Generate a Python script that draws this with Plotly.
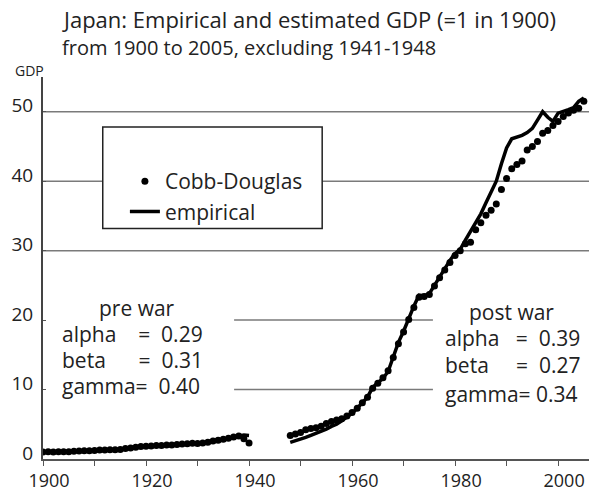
import plotly.graph_objects as go

# ---------------- data ----------------
pre_years = list(range(1900, 1941))
pre_empirical = [1.00, 1.02, 0.98, 1.03, 1.04, 1.02, 1.12, 1.16, 1.18, 1.18,
                 1.20, 1.27, 1.31, 1.33, 1.30, 1.40, 1.55, 1.62, 1.68, 1.85,
                 1.78, 1.92, 1.92, 1.93, 1.98, 2.04, 2.06, 2.12, 2.25, 2.27,
                 2.25, 2.27, 2.45, 2.68, 2.72, 2.80, 2.98, 3.12, 3.28, 3.45,
                 3.40]
pre_cobb = [1.00, 1.03, 1.00, 1.04, 1.05, 1.05, 1.10, 1.15, 1.19, 1.20,
            1.24, 1.28, 1.30, 1.34, 1.33, 1.38, 1.50, 1.60, 1.70, 1.80,
            1.82, 1.88, 1.94, 1.95, 2.00, 2.02, 2.08, 2.15, 2.20, 2.25,
            2.22, 2.30, 2.40, 2.60, 2.70, 2.85, 3.00, 3.15, 3.30, 2.90,
            2.30]

post_years = list(range(1948, 2006))
post_empirical = [2.4, 2.6, 2.85, 3.1, 3.4, 3.7, 3.9, 4.3, 4.7, 5.0,
                  5.5, 6.0, 6.6, 7.3, 8.1, 8.9, 10.3, 10.9, 11.6, 12.6,
                  14.8, 16.8, 18.4, 20.3, 22.0, 23.6, 23.5, 23.8, 25.0, 26.3,
                  27.4, 28.6, 29.6, 30.2, 31.5, 32.7, 34.0, 35.3, 36.9, 38.6,
                  40.0, 42.5, 44.8, 46.1, 46.3, 46.6, 47.0, 47.6, 48.8, 50.0,
                  49.2, 48.6, 49.8, 50.0, 50.3, 50.6, 51.5, 52.0]
post_cobb = [3.4, 3.6, 3.8, 4.2, 4.4, 4.5, 4.7, 5.1, 5.4, 5.6,
             5.8, 6.2, 6.7, 7.3, 8.1, 8.9, 10.2, 10.9, 11.7, 12.7,
             14.6, 16.6, 18.3, 20.1, 21.8, 23.3, 23.4, 23.7, 24.9, 26.1,
             27.2, 28.3, 29.3, 30.0, 31.0, 31.2, 33.0, 34.0, 35.1, 35.8,
             36.7, 38.8, 40.4, 41.8, 42.4, 42.9, 44.5, 45.0, 45.7, 46.9,
             47.3, 48.0, 48.6, 49.3, 49.8, 50.2, 50.5, 51.5]

x_tick_vals = list(range(1900, 2001, 10))
x_tick_text = ["1900", "", "1920", "", "1940", "", "1960", "", "1980", "", "2000"]
y_tick_vals = [0, 10, 20, 30, 40, 50]

title_line1 = "Japan: Empirical and estimated GDP (=1 in 1900)"
title_line2 = "from 1900 to 2005, excluding 1941-1948"

NB = "\u00a0"
pre_lines = ["alpha" + NB * 4 + "=" + NB * 2 + "0.29",
             "beta" + NB * 6 + "=" + NB * 2 + "0.31",
             "gamma=" + NB * 2 + "0.40"]
post_lines = ["alpha" + NB * 3 + "=" + NB * 2 + "0.39",
              "beta" + NB * 5 + "=" + NB * 2 + "0.27",
              "gamma=" + NB + "0.34"]

# ---------------- figure ----------------
FONT = "Open Sans, Noto Sans, DejaVu Sans, sans-serif"
TXT = "#222222"

emp_x = pre_years + [1944] + post_years
emp_y = pre_empirical + [None] + post_empirical
cd_x = pre_years + post_years
cd_y = pre_cobb + post_cobb

fig = go.Figure()
fig.add_trace(go.Scatter(
    x=cd_x, y=cd_y, mode="markers", name="Cobb-Douglas",
    marker=dict(color="black", size=7, symbol="circle"),
))
fig.add_trace(go.Scatter(
    x=emp_x, y=emp_y, mode="lines", name="empirical",
    line=dict(color="black", width=3.5), connectgaps=False,
))

grid_col = "#7a7a7a"
shapes = []
for gy in [30, 40, 50]:
    shapes.append(dict(type="line", xref="paper", x0=0, x1=1, yref="y", y0=gy, y1=gy,
                       line=dict(color=grid_col, width=1.5), layer="below"))
for gy in [10, 20]:
    shapes.append(dict(type="line", xref="x", x0=1937.1, x1=1975.7, yref="y", y0=gy, y1=gy,
                       line=dict(color=grid_col, width=1.5), layer="below"))
# legend frame
shapes.append(dict(type="rect", xref="x", x0=1911.6, x1=1954.2, yref="y", y0=33.2, y1=47.8,
                   fillcolor="white", line=dict(color=TXT, width=1.5), layer="above"))

annotations = [
    dict(text=title_line1, xref="paper", yref="paper", x=0.031, y=1.153, showarrow=False,
         xanchor="left", yanchor="middle", font=dict(size=22, color=TXT)),
    dict(text=title_line2, xref="paper", yref="paper", x=0.031, y=1.078, showarrow=False,
         xanchor="left", yanchor="middle", font=dict(size=20, color=TXT)),
    dict(text="GDP", xref="paper", yref="paper", x=-0.024, y=1.016, showarrow=False,
         xanchor="center", yanchor="middle", font=dict(size=14, color=TXT)),
    dict(text="pre war", x=1918.3, y=21.7, showarrow=False, xanchor="center",
         yanchor="middle", font=dict(size=21, color=TXT)),
    dict(text="post war", x=1990.9, y=21.2, showarrow=False, xanchor="center",
         yanchor="middle", font=dict(size=21, color=TXT)),
]
for txt, yy in zip(pre_lines, [18.0, 14.2, 10.5]):
    annotations.append(dict(text=txt, x=1903.3, y=yy, showarrow=False, xanchor="left",
                            yanchor="middle", font=dict(size=21, color=TXT)))
for txt, yy in zip(post_lines, [17.4, 13.5, 9.4]):
    annotations.append(dict(text=txt, x=1977.7, y=yy, showarrow=False, xanchor="left",
                            yanchor="middle", font=dict(size=21, color=TXT)))

fig.update_layout(
    width=589, height=491,
    margin=dict(l=43, r=0, t=77, b=32),
    paper_bgcolor="white", plot_bgcolor="white",
    font=dict(family=FONT, color=TXT),
    showlegend=True,
    legend=dict(x=0.15, y=0.78, xanchor="left", yanchor="top",
                bgcolor="rgba(0,0,0,0)", borderwidth=0,
                font=dict(size=21, color=TXT), tracegroupgap=0),
    shapes=shapes,
    annotations=annotations,
)
fig.update_xaxes(range=[1900, 2006], tickvals=x_tick_vals, ticktext=x_tick_text,
                 showgrid=False, zeroline=False, showline=True, linecolor="#555555",
                 linewidth=1.5, ticks="outside", ticklen=5, tickcolor="#555555",
                 tickfont=dict(size=18, color=TXT), ticklabelshift=6)
fig.update_yaxes(range=[0, 55], tickvals=y_tick_vals, showgrid=False, zeroline=False,
                 showline=True, linecolor="#444444", linewidth=2, ticks="inside",
                 ticklen=3, tickcolor="#555555", ticklabelstandoff=4, ticklabelshift=-6,
                 tickfont=dict(size=19, color=TXT))

fig.write_html("out.html",
               config={"displayModeBar": False},
               post_script="document.body.style.margin='0';"
                           "document.body.style.overflow='hidden';")
